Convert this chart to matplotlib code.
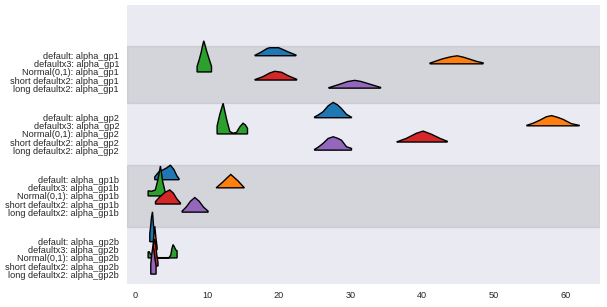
import matplotlib
matplotlib.use("Agg")
import matplotlib.pyplot as plt
import seaborn as sns

# ridge rows: one per (variant, parameter)
variants = ["default", "defaultx3", "Normal(0,1)", "short defaultx2", "long defaultx2"]
params = ["alpha_gp1", "alpha_gp2", "alpha_gp1b", "alpha_gp2b"]

# density curves: x positions and density heights per variant
alpha_gp1_x = [
    [16.7, 17.5, 18.4, 18.8, 20.0, 21.3, 22.4],
    [41.1, 42.0, 42.9, 44.0, 44.9, 45.8, 46.65, 47.6, 48.5],
    [8.62, 8.9, 9.2, 9.4, 9.55, 9.7, 9.95, 10.3, 10.63],
    [16.7, 17.8, 18.75, 19.45, 20.4, 21.3, 22.5],
    [27.0, 28.5, 29.6, 30.6, 31.4, 32.2, 33.2, 34.2],
]
alpha_gp1_d = [
    [0.02, 0.14, 0.30, 0.33, 0.33, 0.16, 0.03],
    [0.03, 0.12, 0.21, 0.29, 0.33, 0.27, 0.19, 0.10, 0.04],
    [0.23, 0.49, 0.82, 1.11, 1.28, 1.13, 0.86, 0.53, 0.23],
    [0.02, 0.14, 0.29, 0.36, 0.32, 0.18, 0.03],
    [0.02, 0.16, 0.27, 0.32, 0.28, 0.21, 0.12, 0.03],
]
alpha_gp2_x = [
    [25.0, 25.5, 26.2, 26.9, 27.6, 28.2, 28.75, 29.45, 30.15],
    [54.6, 55.5, 56.4, 57.3, 58.05, 58.9, 59.7, 60.8, 61.9],
    [11.41, 11.8, 12.25, 12.72, 13.18, 13.64, 14.11, 14.57, 15.03, 15.35, 15.65],
    [36.5, 37.8, 39.2, 40.15, 41.3, 42.5, 43.5],
    [25.0, 25.5, 26.2, 26.9, 27.6, 28.2, 28.75, 29.45, 30.15],
]
alpha_gp2_d = [
    [0.03, 0.11, 0.25, 0.49, 0.63, 0.53, 0.38, 0.14, 0.02],
    [0.02, 0.11, 0.23, 0.37, 0.42, 0.35, 0.26, 0.09, 0.02],
    [0.33, 0.82, 1.26, 0.62, 0.10, 0.03, 0.06, 0.29, 0.44, 0.37, 0.23],
    [0.01, 0.15, 0.36, 0.45, 0.32, 0.15, 0.03],
    [0.03, 0.12, 0.28, 0.48, 0.55, 0.49, 0.41, 0.14, 0.07],
]
alpha_gp1b_x = [
    [2.72, 3.3, 3.9, 4.4, 4.9, 5.4, 5.8, 6.1],
    [11.32, 12.25, 12.8, 13.32, 13.85, 14.34, 15.18],
    [1.79, 2.3, 2.8, 3.15, 3.51, 3.8, 4.2],
    [2.82, 3.4, 4.1, 4.81, 5.3, 5.8, 6.3],
    [6.53, 7.1, 7.7, 8.3, 8.9, 9.5, 10.15],
]
alpha_gp1b_d = [
    [0.12, 0.33, 0.41, 0.49, 0.60, 0.41, 0.16, 0.04],
    [0.01, 0.25, 0.41, 0.55, 0.41, 0.28, 0.01],
    [0.21, 0.19, 0.25, 0.66, 1.23, 0.62, 0.12],
    [0.10, 0.29, 0.47, 0.58, 0.45, 0.21, 0.04],
    [0.04, 0.21, 0.45, 0.60, 0.45, 0.21, 0.04],
]
alpha_gp2b_x = [
    [2.02, 2.15, 2.25, 2.4, 2.55, 2.72],
    [2.48, 2.6, 2.72, 2.88, 3.04],
    [1.79, 1.95, 2.1, 2.25, 2.4, 2.55, 2.7, 2.9, 3.1, 4.0, 4.7, 4.95, 5.1, 5.27, 5.45, 5.65, 5.83],
    [2.3, 2.5, 2.7, 2.85, 3.0, 3.17],
    [2.16, 2.3, 2.45, 2.6, 2.75, 2.9],
]
alpha_gp2b_d = [
    [0.33, 0.66, 0.99, 1.23, 0.66, 0.25],
    [0.21, 0.62, 0.97, 0.49, 0.12],
    [0.25, 0.25, 0.16, 0.12, 0.12, 0.12, 0.08, 0.04, 0.01, 0.01, 0.01, 0.12, 0.37, 0.55, 0.45, 0.33, 0.29],
    [0.25, 0.8, 1.11, 0.9, 0.45, 0.15],
    [0.41, 0.82, 1.14, 0.99, 0.62, 0.33],
]

curves_x = [alpha_gp1_x, alpha_gp2_x, alpha_gp1b_x, alpha_gp2b_x]
curves_d = [alpha_gp1_d, alpha_gp2_d, alpha_gp1b_d, alpha_gp2b_d]

colors = ["#1f77b4", "#ff7f0e", "#2ca02c", "#d62728", "#9467bd"]

# layout (in row units, y axis inverted)
GROUP_STEP = 7.65
HEIGHT_SCALE = 3.0
n_var = len(variants)

sns.set_style("dark")
plt.rcParams["font.family"] = ["Liberation Sans", "DejaVu Sans"]

fig = plt.figure(figsize=(6.07, 3.07), dpi=100)
ax = fig.add_axes([0.2087, 0.0749, 0.7797, 0.9088])
ax.set_facecolor("#EAEAF2")

# shaded bands behind every other parameter group
for g in range(0, len(params), 2):
    first = g * GROUP_STEP
    last = first + n_var - 1
    top = first - 1.23 if g == 0 else (first + (g - 1) * GROUP_STEP + n_var - 1) / 2
    bottom = (last + (g + 1) * GROUP_STEP) / 2
    ax.axhspan(top, bottom, color="gray", alpha=0.2, zorder=0)

ticks, labels = [], []
z = 2
for g, p in enumerate(params):
    for i, v in enumerate(variants):
        base = g * GROUP_STEP + i
        xs = curves_x[g][i]
        ds = curves_d[g][i]
        px = [xs[0]] + xs + [xs[-1]]
        py = [base] + [base - d * HEIGHT_SCALE for d in ds] + [base]
        ax.fill(px, py, facecolor=colors[i], edgecolor="black", linewidth=1.0, zorder=z)
        z += 1
        ticks.append(base)
        labels.append(f"{v}: {p}")

ax.set_xlim(-1.2, 64.8)
ax.set_ylim(len(params) * GROUP_STEP - GROUP_STEP + n_var - 1 + 1.22, -6.26)
ax.set_yticks(ticks)
ax.set_yticklabels(labels)
ax.set_xticks([0, 10, 20, 30, 40, 50, 60])
ax.tick_params(axis="y", length=0, pad=5.5, labelsize=6.6, labelcolor=".15")
ax.tick_params(axis="x", length=0, pad=5, labelsize=6.6, labelcolor=".15")
ax.grid(False)
for s in ax.spines.values():
    s.set_visible(False)

fig.savefig("out.png", dpi=100)
